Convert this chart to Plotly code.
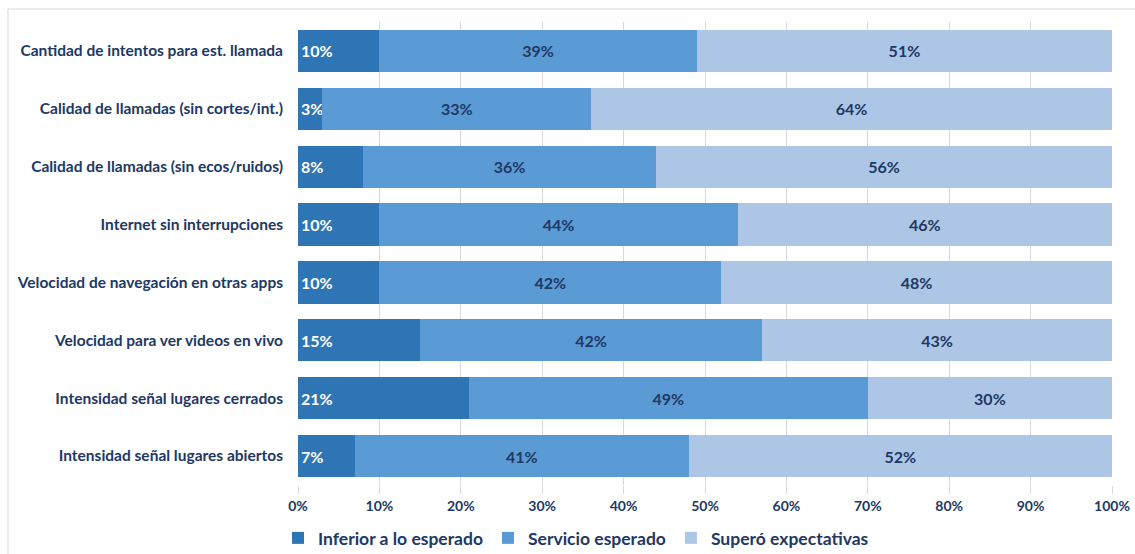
import plotly.graph_objects as go

categories = [
    "Cantidad de intentos para est. llamada",
    "Calidad de llamadas (sin cortes/int.)",
    "Calidad de llamadas (sin ecos/ruidos)",
    "Internet sin interrupciones",
    "Velocidad de navegación en otras apps",
    "Velocidad para ver videos en vivo",
    "Intensidad señal lugares cerrados",
    "Intensidad señal lugares abiertos",
]
inferior = [10, 3, 8, 10, 10, 15, 21, 7]
esperado = [39, 33, 36, 44, 42, 42, 49, 41]
supero = [51, 64, 56, 46, 48, 43, 30, 52]
series_names = ["Inferior a lo esperado", "Servicio esperado", "Superó expectativas"]
colors = ["#2E75B6", "#5B9BD5", "#ADC6E5"]
text_colors = ["#FFFFFF", "#203864", "#203864"]
tick_vals = [0, 10, 20, 30, 40, 50, 60, 70, 80, 90, 100]
tick_text = [f"{v}%" for v in tick_vals]

FONT = "Lato"
NAVY = "#203864"

fig = go.Figure()
for name, vals, col, tcol, anchor in zip(
    series_names, [inferior, esperado, supero], colors, text_colors, ["start", "middle", "middle"]
):
    fig.add_trace(go.Bar(
        y=categories, x=vals, name=name, orientation="h",
        marker=dict(color=col, line=dict(width=0)),
        text=[f"{v}%" for v in vals], textposition="inside",
        insidetextanchor=anchor, textangle=0, constraintext="none",
        textfont=dict(family=FONT, size=16, color=tcol, weight="bold"),
        hoverinfo="skip",
    ))

W, H = 1135, 554
L, R, T, B = 298, 1112, 22, 485
pw, ph = R - L, B - T

def px(x):
    return (x - L) / pw

def py(y):
    return (B - y) / ph

fig.update_layout(
    width=W, height=H, barmode="stack", bargap=0.27,
    margin=dict(l=L, r=W - R, t=T, b=H - B, autoexpand=False),
    paper_bgcolor="white", plot_bgcolor="white",
    font=dict(family=FONT, color=NAVY, size=13),
    xaxis=dict(range=[0, 100], tickvals=tick_vals, ticktext=tick_text,
               showgrid=True, gridcolor="#D9D9D9", gridwidth=1, zeroline=False,
               ticks="outside", ticklen=8, tickcolor="#D9D9D9", automargin=False,
               tickfont=dict(family=FONT, size=14, color=NAVY, weight="bold"),
               fixedrange=True),
    yaxis=dict(autorange="reversed", showgrid=False, zeroline=False, automargin=False,
               ticks="", ticklabelstandoff=14,
               tickfont=dict(family=FONT, size=15.5, color=NAVY, weight="bold")),
    legend=dict(orientation="h", x=px(278), y=py(520), xanchor="left", yanchor="top",
                font=dict(family=FONT, size=17.5, color=NAVY, weight="bold"),
                itemwidth=30, traceorder="normal", tracegroupgap=0),
    showlegend=True,
    shapes=[
        dict(type="line", xref="paper", yref="paper", x0=px(8), x1=px(1135), y0=py(9), y1=py(9),
             line=dict(color="#D9D9D9", width=1)),
        dict(type="line", xref="paper", yref="paper", x0=px(8), x1=px(8), y0=py(9), y1=py(554),
             line=dict(color="#D9D9D9", width=1)),
    ],
)

fig.write_html("out.html", config={"displayModeBar": False},
               post_script="document.body.style.margin='0';document.body.style.overflow='hidden';")
